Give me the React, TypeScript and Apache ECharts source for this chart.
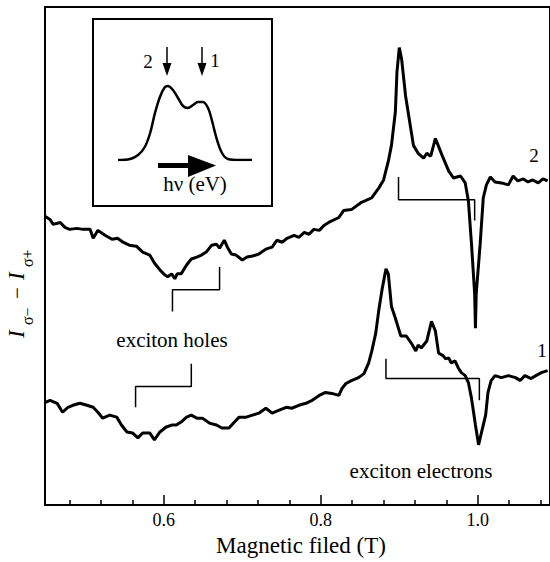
import React, { useEffect, useRef } from "react";
import * as echarts from "echarts";

const FONT = "Liberation Serif";

// Magnetic field axis ticks (T)
const xMajorTicks = [0.6, 0.8, 1.0];
const xMinorTicks = [0.48, 0.52, 0.56, 0.64, 0.68, 0.72, 0.76, 0.84, 0.88, 0.92, 0.96, 1.04, 1.08];

// Spectrum 2 (upper), arbitrary units
const curve2X = [
  0.449, 0.455, 0.459, 0.468, 0.474, 0.480, 0.489, 0.497, 0.506, 0.510, 0.516, 0.525, 0.534, 0.541, 0.548,
  0.556, 0.565, 0.573, 0.582, 0.588, 0.595, 0.601, 0.605, 0.610, 0.614, 0.617, 0.622, 0.629, 0.635, 0.642,
  0.648, 0.654, 0.661, 0.667, 0.671, 0.677, 0.681, 0.686, 0.692, 0.700, 0.706, 0.713, 0.721, 0.730, 0.738,
  0.744, 0.751, 0.757, 0.766, 0.772, 0.779, 0.785, 0.791, 0.798, 0.804,
  0.810, 0.823, 0.829, 0.839, 0.851, 0.857, 0.865, 0.874, 0.880, 0.886, 0.890, 0.895, 0.897, 0.900, 0.903,
  0.908, 0.912, 0.918, 0.924, 0.931, 0.935, 0.940, 0.946, 0.950, 0.956, 0.963, 0.969, 0.978, 0.984, 0.988,
  0.992, 0.996, 0.997, 0.998, 1.003, 1.007, 1.011, 1.016, 1.022, 1.030, 1.039, 1.045, 1.051, 1.058, 1.064,
  1.070, 1.077, 1.083, 1.089,
];
const curve2Y = [
  2.92, 2.89, 2.84, 2.86, 2.81, 2.79, 2.80, 2.79, 2.79, 2.70, 2.78, 2.73, 2.69, 2.70, 2.66,
  2.63, 2.62, 2.56, 2.53, 2.45, 2.38, 2.33, 2.31, 2.34, 2.29, 2.34, 2.34, 2.43, 2.49, 2.51,
  2.53, 2.56, 2.63, 2.64, 2.60, 2.68, 2.61, 2.54, 2.53, 2.48, 2.51, 2.52, 2.54, 2.59, 2.61,
  2.68, 2.66, 2.70, 2.73, 2.71, 2.76, 2.74, 2.79, 2.78, 2.83,
  2.86, 2.91, 2.98, 2.99, 3.06, 3.08, 3.11, 3.21, 3.29, 3.48, 3.64, 3.98, 4.38, 4.63, 4.51,
  4.14, 3.94, 3.64, 3.56, 3.51, 3.56, 3.53, 3.71, 3.63, 3.51, 3.38, 3.31, 3.33, 3.26, 3.08,
  2.64, 2.14, 1.79, 2.14, 2.64, 3.11, 3.24, 3.32, 3.27, 3.26, 3.24, 3.33, 3.28, 3.30, 3.27,
  3.29, 3.26, 3.30, 3.28,
];

// Spectrum 1 (lower), arbitrary units
const curve1X = [
  0.449, 0.455, 0.464, 0.471, 0.478, 0.484, 0.493, 0.502, 0.510, 0.516, 0.522, 0.531, 0.540, 0.546, 0.553,
  0.560, 0.567, 0.573, 0.582, 0.588, 0.595, 0.603, 0.610, 0.616, 0.622, 0.629, 0.635, 0.642, 0.649, 0.658,
  0.667, 0.674, 0.683, 0.690, 0.696, 0.705, 0.713, 0.721, 0.730, 0.738, 0.747, 0.756, 0.763, 0.772, 0.781,
  0.789, 0.798, 0.806, 0.814, 0.823, 0.827, 0.832, 0.839, 0.848, 0.855, 0.861, 0.865, 0.870, 0.874, 0.878,
  0.883, 0.886, 0.890, 0.895, 0.902, 0.909, 0.916, 0.921, 0.924, 0.928, 0.935, 0.941, 0.946, 0.950, 0.956,
  0.959, 0.963, 0.966, 0.971, 0.975, 0.979, 0.984, 0.988, 0.992, 0.997, 1.001, 1.004, 1.010, 1.013, 1.017,
  1.022, 1.030, 1.039, 1.048, 1.054, 1.060, 1.068, 1.074, 1.081, 1.089,
];
const curve1Y = [
  1.04, 1.06, 1.03, 0.94, 0.99, 1.01, 1.03, 1.01, 0.99, 0.94, 0.88, 0.91, 0.89, 0.81, 0.74,
  0.73, 0.68, 0.73, 0.73, 0.66, 0.74, 0.79, 0.81, 0.81, 0.84, 0.89, 0.91, 0.88, 0.88, 0.83,
  0.81, 0.78, 0.78, 0.84, 0.89, 0.89, 0.91, 0.93, 0.98, 0.93, 0.96, 0.99, 0.98, 1.01, 1.03,
  1.06, 1.11, 1.14, 1.13, 1.11, 1.18, 1.23, 1.26, 1.29, 1.33, 1.44, 1.56, 1.74, 1.98, 2.18,
  2.39, 2.34, 2.01, 1.89, 1.71, 1.71, 1.63, 1.56, 1.62, 1.59, 1.66, 1.86, 1.76, 1.54, 1.51,
  1.48, 1.49, 1.44, 1.46, 1.39, 1.34, 1.31, 1.24, 1.08, 0.81, 0.61, 0.71, 0.91, 1.14, 1.26,
  1.31, 1.29, 1.31, 1.29, 1.26, 1.31, 1.28, 1.31, 1.34, 1.36,
];

// Annotation brackets (data coordinates)
const holes2X = [0.671, 0.671, 0.611, 0.611];
const holes2Y = [2.41, 2.18, 2.18, 1.96];
const holes1X = [0.635, 0.635, 0.564, 0.564];
const holes1Y = [1.43, 1.20, 1.20, 0.99];
const elec2X = [0.899, 0.899, 0.996, 0.996];
const elec2Y = [3.32, 3.09, 3.09, 2.88];
const elec1X = [0.883, 0.883, 1.002, 1.002];
const elec1Y = [1.48, 1.28, 1.28, 1.06];

// Inset PL spectrum (arbitrary units)
const insetX = [0, 0.9, 1.5, 2.0, 2.4, 2.76, 3.13, 3.5, 3.73, 4.1, 4.48, 4.85, 5.22, 5.6, 5.97, 6.34, 6.72, 7.0, 7.39, 7.76, 8.2, 9.1, 10];
const insetY = [0, 0.01, 0.05, 0.13, 0.27, 0.47, 0.63, 0.73, 0.74, 0.70, 0.62, 0.54, 0.52, 0.55, 0.58, 0.58, 0.52, 0.40, 0.20, 0.07, 0.01, 0, 0];

const zip = (xs: number[], ys: number[]) => xs.map((x, i) => [x, ys[i]]);

export default function App() {
  const ref = useRef<HTMLDivElement>(null);
  useEffect(() => {
    const chart = echarts.init(ref.current!, null, { renderer: "svg" });
    const black = "#000";
    const lineSeries = (data: number[][], width: number, extra: any = {}) => ({
      type: "line",
      data,
      symbol: "none",
      silent: true,
      lineStyle: { color: black, width },
      ...extra,
    });
    const txt = (x: number, y: number, text: string, fontSize: number) => ({
      type: "text",
      x,
      y,
      z: 10,
      style: { text, fill: black, fontFamily: FONT, fontSize, align: "center", verticalAlign: "middle" },
    });
    const arrowDown = (x: number) => [
      { type: "line", shape: { x1: x, y1: 47, x2: x, y2: 66 }, style: { stroke: black, lineWidth: 1.5 }, z: 10 },
      { type: "polygon", shape: { points: [[x - 4.5, 63], [x + 4.5, 63], [x, 76]] }, style: { fill: black }, z: 10 },
    ];
    chart.setOption({
      animation: false,
      backgroundColor: "#fff",
      textStyle: { fontFamily: FONT },
      grid: [
        { left: 45, top: 7, right: -2, bottom: 51, show: true, borderColor: black, borderWidth: 2, backgroundColor: "transparent" },
        { left: 118, top: 60, width: 134, height: 100 },
      ],
      xAxis: [
        {
          gridIndex: 0,
          type: "value",
          min: 0.4486,
          max: 1.092,
          position: "bottom",
          axisLine: { show: true, lineStyle: { color: black, width: 2 } },
          axisTick: { show: true, inside: true, length: 10, customValues: xMajorTicks, lineStyle: { color: black, width: 1.5 } },
          axisLabel: {
            customValues: xMajorTicks,
            formatter: (v: number) => v.toFixed(1),
            color: black,
            fontFamily: FONT,
            fontSize: 18,
            margin: 6,
          },
          splitLine: { show: false },
          name: "Magnetic filed (T)",
          nameLocation: "middle",
          nameGap: 26,
          nameTextStyle: { color: black, fontFamily: FONT, fontSize: 23, padding: [0, 0, 0, 7] },
        },
        {
          gridIndex: 0,
          type: "value",
          min: 0.4486,
          max: 1.092,
          position: "bottom",
          axisLine: { show: false },
          axisTick: { show: true, inside: true, length: 5, customValues: xMinorTicks, lineStyle: { color: black, width: 1.5 } },
          axisLabel: { show: false },
          splitLine: { show: false },
        },
        { gridIndex: 1, type: "value", min: 0, max: 10, show: false },
      ],
      yAxis: [
        {
          gridIndex: 0,
          type: "value",
          min: 0,
          max: 5.04,
          axisLine: { show: true, lineStyle: { color: black, width: 2 } },
          axisTick: { show: false },
          axisLabel: { show: false },
          splitLine: { show: false },
        },
        { gridIndex: 1, type: "value", min: 0, max: 1, show: false },
      ],
      series: [
        lineSeries(zip(curve2X, curve2Y), 3, { xAxisIndex: 0, yAxisIndex: 0 }),
        lineSeries(zip(curve1X, curve1Y), 3, { xAxisIndex: 0, yAxisIndex: 0 }),
        lineSeries(zip(holes2X, holes2Y), 1.5, { xAxisIndex: 0, yAxisIndex: 0 }),
        lineSeries(zip(holes1X, holes1Y), 1.5, { xAxisIndex: 0, yAxisIndex: 0 }),
        lineSeries(zip(elec2X, elec2Y), 1.5, { xAxisIndex: 0, yAxisIndex: 0 }),
        lineSeries(zip(elec1X, elec1Y), 1.5, { xAxisIndex: 0, yAxisIndex: 0 }),
        lineSeries(zip(insetX, insetY), 2.5, { xAxisIndex: 2, yAxisIndex: 1, smooth: 0.35, z: 5 }),
      ],
      graphic: [
        // inset frame
        { type: "rect", shape: { x: 93, y: 19, width: 179, height: 187 }, style: { fill: "#fff", stroke: black, lineWidth: 2 }, z: 1 },
        ...arrowDown(167),
        ...arrowDown(202),
        txt(148, 61, "2", 19),
        txt(215, 60, "1", 19),
        { type: "rect", shape: { x: 158, y: 163, width: 32, height: 5 }, style: { fill: black }, z: 10 },
        { type: "polygon", shape: { points: [[188, 155], [216, 165.5], [188, 177]] }, style: { fill: black }, z: 10 },
        txt(195, 184, "hν (eV)", 21),
        // curve labels
        txt(534, 155, "2", 19),
        txt(542, 350, "1", 19),
        // annotations
        txt(172, 340, "exciton holes", 21),
        txt(421, 471, "exciton electrons", 21),
        // y-axis title: I_{σ−} − I_{σ+}
        {
          type: "group",
          x: 0,
          y: 338,
          rotation: Math.PI / 2,
          z: 10,
          children: [
            { type: "text", x: 0, y: 16.5, style: { text: "I", fill: black, fontFamily: FONT, fontStyle: "italic", fontSize: 23, align: "left", verticalAlign: "middle" } },
            { type: "text", x: 13, y: 27, style: { text: "σ−", fill: black, fontFamily: FONT, fontSize: 16, align: "left", verticalAlign: "middle" } },
            { type: "text", x: 39, y: 17, style: { text: "−", fill: black, fontFamily: FONT, fontSize: 21, align: "left", verticalAlign: "middle" } },
            { type: "text", x: 58, y: 16.5, style: { text: "I", fill: black, fontFamily: FONT, fontStyle: "italic", fontSize: 23, align: "left", verticalAlign: "middle" } },
            { type: "text", x: 71, y: 27, style: { text: "σ+", fill: black, fontFamily: FONT, fontSize: 16, align: "left", verticalAlign: "middle" } },
          ],
        },
      ],
    });
    return () => chart.dispose();
  }, []);
  return (
    <div
      ref={ref}
      style={{ position: "fixed", left: 0, top: 0, width: 550, height: 562, background: "#fff" }}
    />
  );
}
